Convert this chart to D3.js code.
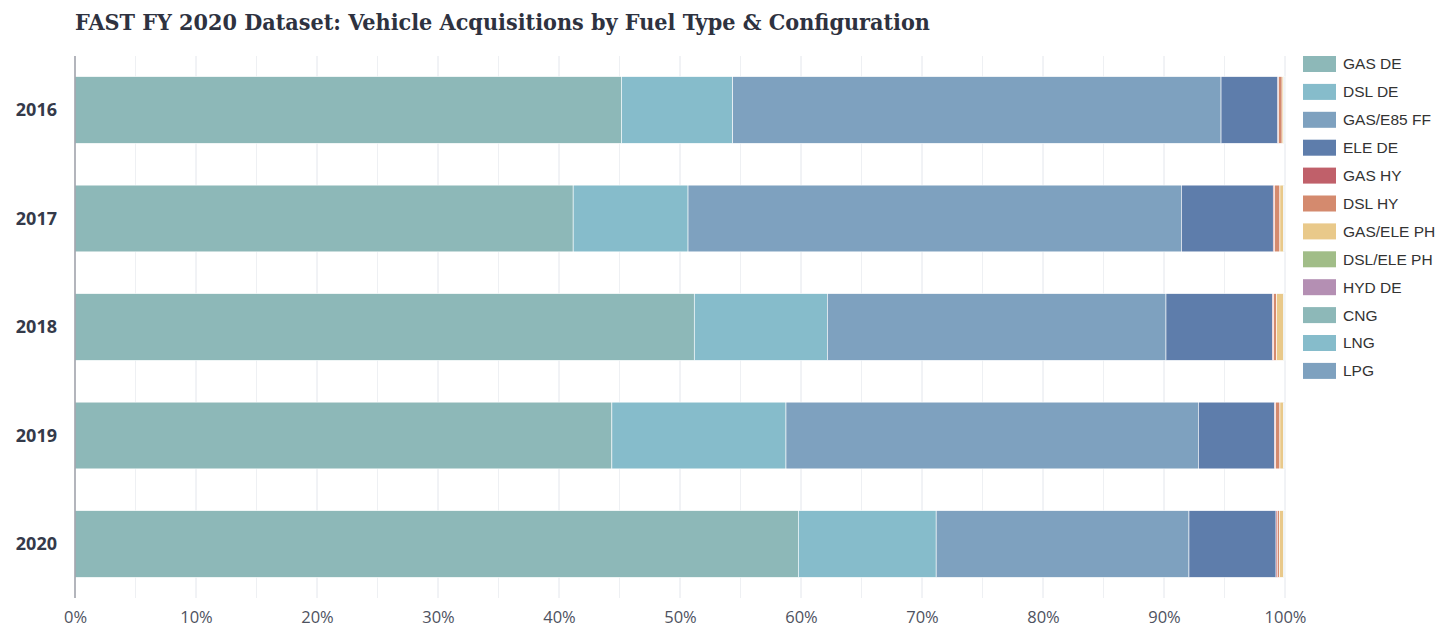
<!DOCTYPE html>
<html><head><meta charset="utf-8">
<script src="https://cdn.jsdelivr.net/npm/d3@7"></script>
<style>body{margin:0;background:#fff;}svg{display:block;}</style>
</head><body><svg id="c" width="1448" height="629"></svg>
<script>
const years = ["2016","2017","2018","2019","2020"];
const fuelTypes = ["GAS DE","DSL DE","GAS/E85 FF","ELE DE","GAS HY","DSL HY","GAS/ELE PH","DSL/ELE PH","HYD DE","CNG","LNG","LPG"];
const colors = ["#8db8b8","#86bccb","#7ea1bf","#5e7dab","#c0606a","#d48a6e","#e9c98a","#a1bd88","#b48fb3","#8db8b8","#86bccb","#7ea1bf"];
// percent share per year, series order as fuelTypes
const gasDE     = [45.2, 41.2, 51.2, 44.4, 59.8];
const dslDE     = [9.2, 9.5, 11.0, 14.4, 11.4];
const gasE85FF  = [40.4, 40.8, 28.0, 34.1, 20.9];
const eleDE     = [4.7, 7.6, 8.8, 6.3, 7.2];
const gasHY     = [0.05, 0.1, 0.1, 0.1, 0.1];
const dslHY     = [0.3, 0.45, 0.25, 0.35, 0.2];
const gasElePH  = [0.1, 0.3, 0.55, 0.3, 0.3];
const dslElePH  = [0.05, 0.03, 0.05, 0.03, 0.05];
const hydDE     = [0.02, 0.02, 0.02, 0.02, 0.02];
const cng       = [0.05, 0.05, 0.05, 0.05, 0.05];
const lng       = [0.01, 0.01, 0.01, 0.01, 0.01];
const lpg       = [0.01, 0.01, 0.01, 0.01, 0.01];
const xTicks = [0,10,20,30,40,50,60,70,80,90,100];
const gridTicks = [0,5,10,15,20,25,30,35,40,45,50,55,60,65,70,75,80,85,90,95,100];

const seriesValues = [gasDE,dslDE,gasE85FF,eleDE,gasHY,dslHY,gasElePH,dslElePH,hydDE,cng,lng,lpg];
const rows = years.map((y,i)=>{
  const r = {year:y};
  fuelTypes.forEach((f,j)=>r[f]=seriesValues[j][i]);
  return r;
});
rows.forEach(r=>{const t=d3.sum(fuelTypes,f=>r[f]); fuelTypes.forEach(f=>r[f]=r[f]/t*100);});

const svg = d3.select("#c");
const m = {left:75, right:163, top:56, bottom:31};
const W = 1448, H = 629;
const x = d3.scaleLinear().domain([0,100]).range([m.left, W-m.right]);
const y = d3.scaleBand().domain(years).range([m.top, H-m.bottom]).paddingInner(0.385).paddingOuter(0.19);

svg.append("text").attr("x",75).attr("y",30)
  .attr("font-family","'DejaVu Serif', serif").attr("font-weight","bold").attr("font-stretch","condensed").attr("font-size",22)
  .attr("fill","#2e3240").attr("textLength",855).attr("lengthAdjust","spacingAndGlyphs")
  .text("FAST FY 2020 Dataset: Vehicle Acquisitions by Fuel Type & Configuration");

// grid
svg.append("g").selectAll("line").data(gridTicks.slice(1)).join("line")
  .attr("x1",d=>x(d)).attr("x2",d=>x(d)).attr("y1",m.top).attr("y2",H-m.bottom)
  .attr("stroke",d=>d%10===0?"#e3e6ec":"#eef0f3").attr("stroke-width",1);

const stack = d3.stack().keys(fuelTypes)(rows);
svg.append("g").selectAll("g").data(stack).join("g").attr("fill",(d,i)=>colors[i])
  .selectAll("rect").data(d=>d).join("rect")
  .attr("x",d=>x(d[0])).attr("width",d=>Math.max(0,x(d[1])-x(d[0])))
  .attr("y",d=>y(d.data.year)).attr("height",y.bandwidth())
  .attr("stroke","#fff").attr("stroke-width",0.6);

// y axis line
svg.append("line").attr("x1",m.left).attr("x2",m.left).attr("y1",m.top).attr("y2",H-m.bottom)
  .attr("stroke","#9a9ca6").attr("stroke-width",1.5);

// y labels
svg.append("g").selectAll("text").data(years).join("text")
  .attr("x",57).attr("y",d=>y(d)+y.bandwidth()/2).attr("dy","0.36em").attr("text-anchor","end")
  .attr("font-family","'Open Sans', sans-serif").attr("font-weight","bold").attr("font-size",18)
  .attr("fill","#343a4a").text(d=>d);

// x axis
const xa = svg.append("g").attr("transform",`translate(0,${H-m.bottom})`)
  .call(d3.axisBottom(x).tickValues(xTicks).tickFormat(d=>d+"%").tickSize(0).tickPadding(13));
xa.select(".domain").remove();
xa.selectAll("text").attr("font-family","'Open Sans', sans-serif").attr("font-size",16.5).attr("fill","#4e5260");

// legend
const lg = svg.append("g").attr("transform","translate(1303,56)");
const li = lg.selectAll("g").data(fuelTypes).join("g").attr("transform",(d,i)=>`translate(0,${i*27.9})`);
li.append("rect").attr("width",33).attr("height",16).attr("fill",(d,i)=>colors[i]);
li.append("text").attr("x",40).attr("y",8).attr("dy","0.35em")
  .attr("font-family","'Liberation Sans', Arial, sans-serif").attr("font-size",15.5).attr("fill","#333").text(d=>d);
</script></body></html>
